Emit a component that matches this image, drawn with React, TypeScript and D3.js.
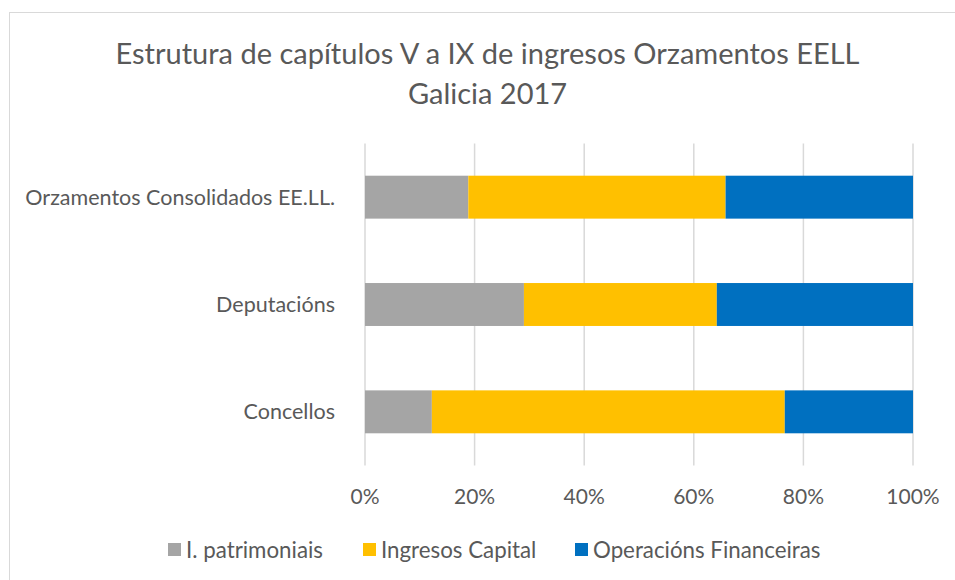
import React from "react";
import * as d3 from "d3";

const categories = ["Orzamentos Consolidados EE.LL.", "Deputacións", "Concellos"];
const patrimoniais = [18.85, 29.0, 12.2];
const capital = [46.95, 35.2, 64.4];
const financeiras = [34.2, 35.8, 23.4];
const seriesNames = ["I. patrimoniais", "Ingresos Capital", "Operacións Financeiras"];
const seriesColors = ["#A5A5A5", "#FFC000", "#0070C0"];
const ticks = [0, 0.2, 0.4, 0.6, 0.8, 1];
const titleLines = ["Estrutura de capítulos V a IX de ingresos Orzamentos EELL", "Galicia 2017"];

const W = 955, H = 580;
const FONT = "Lato, 'Open Sans', sans-serif";
const TXT = "#595959";

export default function App() {
  const rows = categories.map((c, i) => ({
    cat: c,
    s0: patrimoniais[i],
    s1: capital[i],
    s2: financeiras[i],
  }));
  const stack = d3.stack<any>().keys(["s0", "s1", "s2"]).offset(d3.stackOffsetExpand);
  const stacked = stack(rows);

  const x = d3.scaleLinear().domain([0, 1]).range([365, 913]);
  const y = d3.scaleBand<string>().domain(categories).range([143.5, 465.5]).paddingInner(0.6).paddingOuter(0.3);
  const [y0, y1] = y.range();

  const legendX = [168, 363, 575];

  return (
    <svg width={W} height={H} style={{ position: "absolute", left: 0, top: 0 }} fontFamily={FONT}>
      <rect x={0} y={0} width={W} height={H} fill="#fff" />
      <rect x={9.5} y={12.5} width={W + 10} height={H + 10} fill="none" stroke="#d9d9d9" strokeWidth={1} />
      {titleLines.map((t, i) => (
        <text key={i} x={487.5} y={64 + i * 40} textAnchor="middle" fontSize={29} fill={TXT}>{t}</text>
      ))}
      {ticks.map((t) => (
        <line key={t} x1={x(t)} x2={x(t)} y1={y0} y2={y1} stroke="#d9d9d9" strokeWidth={1.5} />
      ))}
      {stacked.map((s, si) => (
        <g key={si} fill={seriesColors[si]}>
          {s.map((d, i) => (
            <rect key={i} x={x(d[0])} y={y(categories[i])} width={x(d[1]) - x(d[0])} height={y.bandwidth()} />
          ))}
        </g>
      ))}
      {categories.map((c) => (
        <text key={c} x={335} y={(y(c) as number) + y.bandwidth() / 2} dy="0.35em" textAnchor="end" fontSize={21.5} fill={TXT}>{c}</text>
      ))}
      {ticks.map((t) => (
        <text key={t} x={x(t)} y={503.5} textAnchor="middle" fontSize={21} fill={TXT}>{d3.format(".0%")(t)}</text>
      ))}
      {seriesNames.map((n, i) => (
        <g key={n}>
          <rect x={legendX[i]} y={543} width={13} height={13} fill={seriesColors[i]} />
          <text x={legendX[i] + 18} y={557.5} fontSize={22.3} fill={TXT}>{n}</text>
        </g>
      ))}
    </svg>
  );
}
